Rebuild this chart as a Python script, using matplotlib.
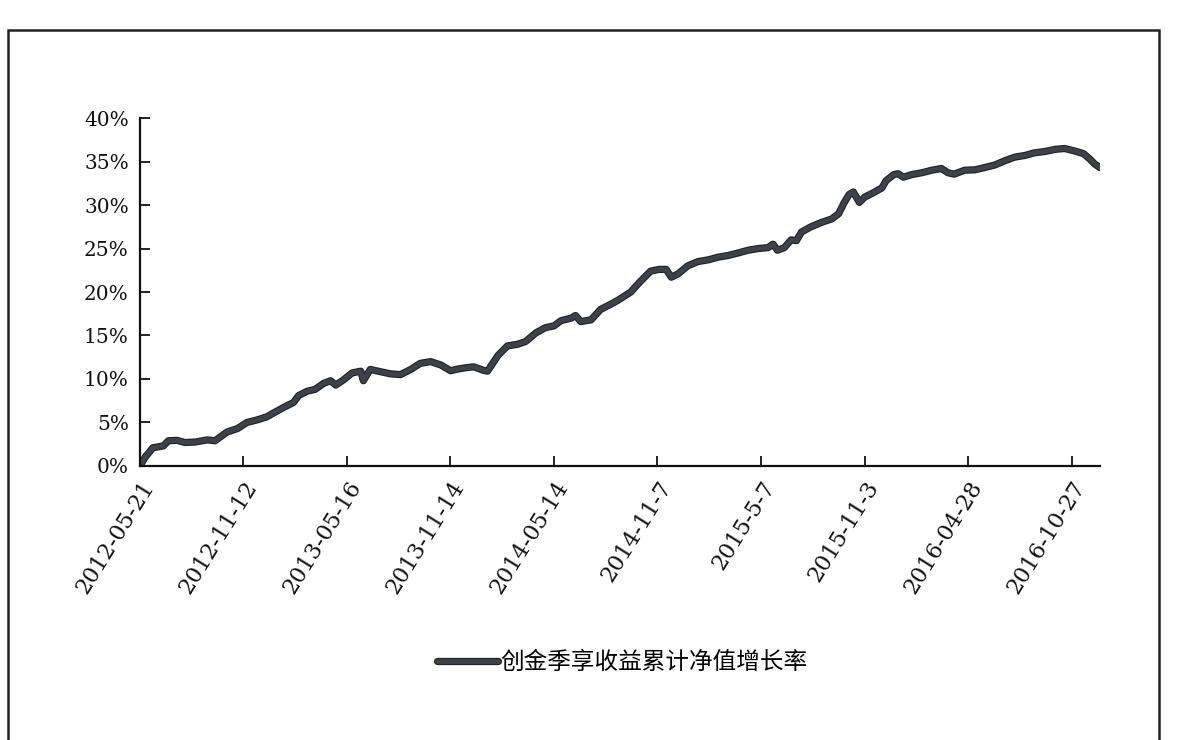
import matplotlib
matplotlib.use("Agg")
import matplotlib.pyplot as plt
import matplotlib.patheffects as pe
from matplotlib.patches import Rectangle

# trading-day index of each sampled point and cumulative NAV growth (%)
DAYS = [0, 6, 15, 27, 33, 43, 52, 64, 78, 87, 101, 113, 124, 136, 147, 155,
        166, 178, 184, 194, 203, 213, 221, 227, 236, 246, 256, 259, 267, 276,
        290, 302, 314, 325, 337, 349, 360, 369, 378, 387, 398, 403, 415, 426,
        438, 447, 459, 470, 480, 488, 500, 505, 511, 523, 534, 546, 555, 569,
        579, 592, 602, 610, 616, 624, 635, 647, 659, 670, 682, 694, 705, 717,
        728, 734, 739, 747, 755, 761, 767, 778, 790, 802, 810, 816, 822, 827,
        834, 840, 850, 860, 865, 874, 879, 885, 895, 906, 918, 929, 937, 944,
        956, 968, 979, 991, 1003, 1014, 1026, 1037, 1049, 1061, 1072, 1084,
        1094, 1101, 1107, 1113]
GROWTH = [0.0, 1.0, 2.1, 2.3, 2.9, 2.95, 2.7, 2.75, 3.0, 2.9, 3.9, 4.3, 5.0,
          5.3, 5.65, 6.1, 6.7, 7.3, 8.1, 8.6, 8.8, 9.5, 9.8, 9.3, 9.9, 10.7,
          10.9, 9.8, 11.1, 10.9, 10.6, 10.5, 11.1, 11.8, 12.0, 11.6, 10.95,
          11.15, 11.3, 11.4, 11.0, 10.9, 12.7, 13.8, 14.0, 14.3, 15.3, 15.9,
          16.1, 16.7, 17.0, 17.3, 16.6, 16.8, 18.0, 18.6, 19.1, 20.0, 21.1,
          22.4, 22.6, 22.6, 21.7, 22.1, 23.0, 23.5, 23.7, 24.0, 24.2, 24.5,
          24.8, 25.0, 25.1, 25.5, 24.8, 25.1, 26.0, 25.9, 26.9, 27.5, 28.0,
          28.4, 29.0, 30.2, 31.2, 31.5, 30.3, 30.9, 31.4, 31.95, 32.8, 33.5,
          33.6, 33.2, 33.5, 33.7, 34.0, 34.2, 33.7, 33.55, 34.0, 34.05, 34.3,
          34.6, 35.1, 35.5, 35.7, 36.0, 36.15, 36.4, 36.5, 36.2, 35.9, 35.3,
          34.7, 34.3]

TICK_DAYS = [0, 120, 240, 360, 480, 600, 720, 840, 960, 1080]
TICK_LABELS = ["2012-05-21", "2012-11-12", "2013-05-16", "2013-11-14",
               "2014-05-14", "2014-11-7", "2015-5-7", "2015-11-3",
               "2016-04-28", "2016-10-27"]
Y_TICKS = [0, 5, 10, 15, 20, 25, 30, 35, 40]
SERIES_NAME = "创金季享收益累计净值增长率"

LINE = "#3d4149"

fig = plt.figure(figsize=(11.79, 7.4), dpi=100, facecolor="white")
ax = fig.add_axes([0.1187, 0.3703, 0.8143, 0.4702])

ax.plot(DAYS, GROWTH, color=LINE, linewidth=3.6, solid_joinstyle="round",
        solid_capstyle="round", label=SERIES_NAME,
        path_effects=[pe.Stroke(linewidth=5.2, foreground="#1f2226"), pe.Normal()])

ax.set_xlim(0, DAYS[-1])
ax.set_ylim(0, 40)
ax.set_yticks(Y_TICKS)
ax.set_yticklabels([f"{v}%" for v in Y_TICKS], family="DejaVu Serif", fontsize=14.5)
ax.set_xticks(TICK_DAYS)
ax.set_xticklabels(TICK_LABELS, family="DejaVu Serif", fontsize=16,
                   rotation=58, ha="right", rotation_mode="anchor")
ax.tick_params(direction="in", length=7, width=1.3, colors="#111111", pad=8)

for side in ("top", "right"):
    ax.spines[side].set_visible(False)
for side in ("left", "bottom"):
    ax.spines[side].set_linewidth(1.6)
    ax.spines[side].set_color("#111111")

fig.legend(loc="center", bbox_to_anchor=(0.528, 0.105), frameon=False,
           handlelength=2.6, handletextpad=0.1,
           prop={"family": ["Noto Sans CJK SC", "DejaVu Sans"], "size": 17})

# chart area border
fig.patches.append(Rectangle((0.007, -0.01), 0.976, 0.97, transform=fig.transFigure,
                             fill=False, edgecolor="#222222", linewidth=1.8))

fig.savefig("out.png", dpi=100, facecolor="white")
plt.close(fig)
